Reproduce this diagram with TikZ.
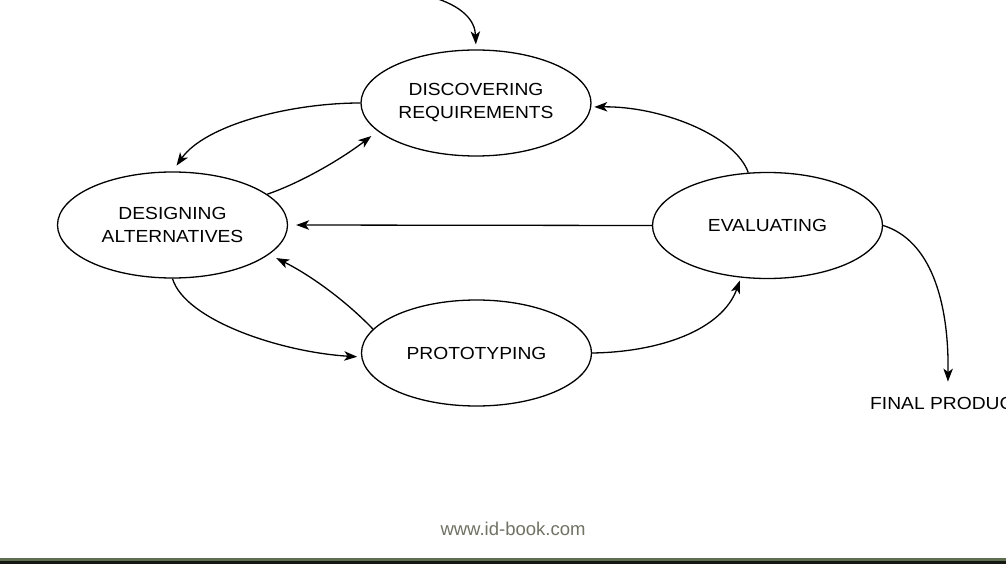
\documentclass[tikz,border=0pt]{standalone}
\usepackage{fontspec}
\setmainfont{Liberation Sans}
\newfontfamily\labfont[FakeStretch=1.1]{Liberation Sans}
\usetikzlibrary{arrows.meta,shapes.geometric}
\definecolor{footgray}{RGB}{112,114,100}
\definecolor{barolive}{RGB}{94,110,80}
\definecolor{bardark}{RGB}{22,24,20}
\tikzset{
  stage/.style={ellipse, draw, line width=1.3pt, minimum width=230pt, minimum height=106pt,
    inner sep=0pt, align=center, font=\labfont\fontsize{17.5}{23}\selectfont},
  conn/.style={line width=1.3pt, -{Stealth[length=13pt,width=9.5pt,inset=3.5pt]}},
  lab/.style={inner sep=0pt, font=\labfont\fontsize{17.5}{23}\selectfont}
}
\begin{document}
\begin{tikzpicture}[x=1pt,y=-1pt]
\useasboundingbox (0,0) rectangle (1006,564);
\fill[white] (0,0) rectangle (1006,564);

\node[stage] (disc) at (476,103) {DISCOVERING\\REQUIREMENTS};
\node[stage] (des) at (172.5,225) {DESIGNING\\ALTERNATIVES};
\node[stage] (eval) at (767.5,225.5) {EVALUATING};
\node[stage] (proto) at (476.5,353) {PROTOTYPING};
\node[lab, anchor=base west] (fp) at (870,409) {FINAL PRODUCT};

\coordinate (entry) at (432,-3);
\draw[conn, shorten >=5pt] (entry) .. controls (462,6) and (475,20) .. (disc.north);
\draw[conn, shorten >=7pt] (disc.west) .. controls (290,103) and (205,125) .. (des.north);
\draw[conn, shorten >=8pt] (des.18) .. controls (300,183) and (340,160) .. (disc.196);
\draw[conn, shorten >=8pt] (eval.west) -- (des.east);
\draw[conn, shorten >=3pt] (eval.110) .. controls (735,135) and (660,106) .. (disc.-2);
\draw[conn, shorten >=4pt] (des.south) .. controls (185,320) and (280,352) .. (proto.182);
\draw[conn, shorten >=8pt] (proto.167) .. controls (345,300) and (310,275) .. (des.-17);
\draw[conn, shorten >=3pt] (proto.east) .. controls (660,352) and (722,330) .. (eval.243);
\draw[conn, shorten >=15pt] (eval.east) .. controls (930,240) and (949,300) .. (fp.north);

\node[font=\fontsize{18.5}{20}\selectfont, text=footgray, anchor=base, inner sep=0pt] (url) at (513,535) {www.id-book.com};
\fill[barolive] (0,558) rectangle (1006,564);
\fill[bardark] (0,560.5) rectangle (1006,564);
\end{tikzpicture}
\end{document}
